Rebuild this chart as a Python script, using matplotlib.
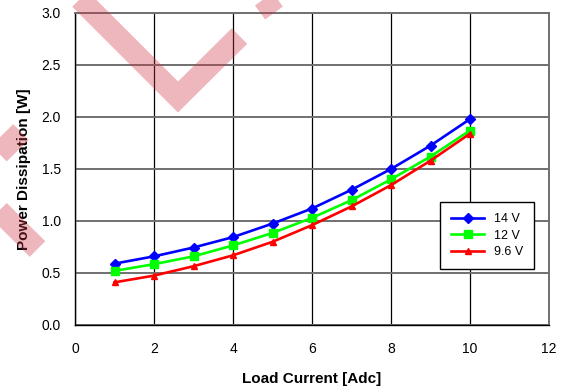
import matplotlib
matplotlib.use("Agg")
import matplotlib.pyplot as plt
from matplotlib.lines import Line2D

plt.rcParams['font.family'] = ['Liberation Sans', 'DejaVu Sans']

load_current = [1, 2, 3, 4, 5, 6, 7, 8, 9, 10]
p_14v = [0.59, 0.66, 0.745, 0.845, 0.975, 1.12, 1.30, 1.50, 1.725, 1.98]
p_12v = [0.52, 0.585, 0.66, 0.765, 0.885, 1.03, 1.20, 1.40, 1.62, 1.87]
p_96v = [0.41, 0.475, 0.565, 0.67, 0.80, 0.96, 1.14, 1.345, 1.58, 1.84]
series_labels = ["14 V", "12 V", "9.6 V"]
x_ticks = [0, 2, 4, 6, 8, 10, 12]
y_ticks = [0.0, 0.5, 1.0, 1.5, 2.0, 2.5, 3.0]

W, H = 572, 391
fig = plt.figure(figsize=(W / 100, H / 100), dpi=100)
ax = fig.add_axes([75 / W, 1 - 325 / H, (549 - 75) / W, (325 - 13) / H])

ax.plot(load_current, p_14v, color='#0000ff', lw=1.9, marker='D', ms=5, label=series_labels[0], zorder=3)
ax.plot(load_current, p_12v, color='#00ff00', lw=1.9, marker='s', ms=5.5, label=series_labels[1], zorder=3)
ax.plot(load_current, p_96v, color='#ff0000', lw=1.9, marker='^', ms=5, label=series_labels[2], zorder=3)

ax.set_xlim(0, 12)
ax.set_ylim(0, 3.0)
ax.set_xticks(x_ticks)
ax.set_yticks(y_ticks)
ax.set_yticklabels([f"{v:.1f}" for v in y_ticks])
ax.tick_params(axis='both', length=0, labelsize=10)
ax.tick_params(axis='x', pad=12)
ax.tick_params(axis='y', pad=10)

ax.xaxis.grid(True, color='black', lw=0.9)
ax.yaxis.grid(True, color='#707070', lw=1.4)
ax.set_axisbelow(True)
for s in ['left', 'bottom']:
    ax.spines[s].set_color('black')
    ax.spines[s].set_linewidth(1.0)
for s in ['top', 'right']:
    ax.spines[s].set_color('#707070')
    ax.spines[s].set_linewidth(1.4)

ax.set_xlabel("Load Current [Adc]", fontsize=11, fontweight='bold', labelpad=12)
ax.set_ylabel("Power Dissipation [W]", fontsize=11, fontweight='bold', labelpad=8)

leg = ax.legend(loc='upper left', bbox_to_anchor=(440 / W, 1 - 202 / H), bbox_transform=fig.transFigure,
                fancybox=False, edgecolor='black', framealpha=1, fontsize=9,
                handlelength=2.6, borderpad=0.9, labelspacing=0.35, handletextpad=0.8, borderaxespad=0)
leg.get_frame().set_linewidth(1.0)

# watermark bands (figure pixel coords, y from top)
def band(pts, width_px):
    xs = [p[0] / W for p in pts]
    ys = [1 - p[1] / H for p in pts]
    ln = Line2D(xs, ys, transform=fig.transFigure, color='#cc3344', alpha=0.35,
                lw=width_px * 0.72, solid_capstyle='butt', solid_joinstyle='miter', zorder=10)
    fig.add_artist(ln)

band([(26, -55), (178, 97), (239.5, 36)], 22)
band([(240, -34), (274, 13)], 22)
band([(21, 132), (-30, 182), (37.5, 249)], 22)

fig.savefig("out.png", dpi=100)
